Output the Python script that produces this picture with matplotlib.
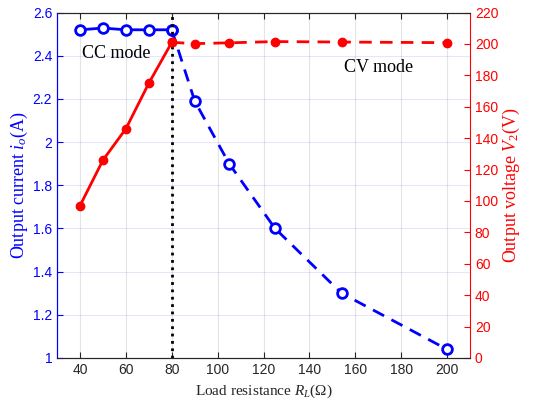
import numpy as np
import matplotlib.pyplot as plt

plt.rcParams["font.family"] = "Liberation Sans"
plt.rcParams["mathtext.fontset"] = "custom"
plt.rcParams["mathtext.rm"] = "Liberation Serif"
plt.rcParams["mathtext.it"] = "Liberation Serif:italic"

# load resistance (ohm)
r_load = [40, 50, 60, 70, 80, 90, 105, 125, 154, 200]
# output current (A)
i_out = [2.52, 2.528, 2.52, 2.52, 2.52, 2.19, 1.90, 1.60, 1.30, 1.04]
# output voltage (V)
v_out = [97, 126, 146, 175, 201, 200.2, 200.7, 201.5, 201.2, 200.8]
boundary = 80

blue = "#0000ff"
red = "#ff0000"
serif = "Liberation Serif"

fig = plt.figure(figsize=(5.49, 4.04), dpi=100)
ax = fig.add_axes([0.104, 0.114, 0.752, 0.855])
ax2 = ax.twinx()

k = r_load.index(boundary)

ax.plot(r_load[:k + 1], i_out[:k + 1], "-o", color=blue, lw=2, ms=7,
        mfc="white", mew=2)
ax.plot(r_load[k:], i_out[k:], "--o", color=blue, lw=2, ms=7,
        mfc="white", mew=2, dashes=(4.5, 3))
ax2.plot(r_load[:k + 1], v_out[:k + 1], "-o", color=red, lw=2, ms=6)
ax2.plot(r_load[k:], v_out[k:], "--o", color=red, lw=2, ms=6, dashes=(4.5, 3))
ax.axvline(boundary, color="black", ls=":", lw=2, zorder=5)

ax.set_xlim(30, 210)
ax.set_ylim(1, 2.6)
ax2.set_ylim(0, 220)
ax.set_xticks(np.arange(40, 201, 20))
ax.set_yticks(np.arange(1, 2.61, 0.2))
ax.set_yticklabels(["1", "1.2", "1.4", "1.6", "1.8", "2", "2.2", "2.4", "2.6"])
ax2.set_yticks(np.arange(0, 221, 20))

# matlab-like grid
for yv in np.arange(1.2, 2.6, 0.2):
    ax.axhline(yv, color=blue, alpha=0.1, lw=0.8, zorder=0)
for xv in np.arange(40, 201, 20):
    ax.axvline(xv, color="#262626", alpha=0.12, lw=0.8, zorder=0)

ax.tick_params(axis="x", direction="in", top=True, colors="#262626",
               labelsize=10, length=4)
ax.tick_params(axis="y", direction="in", colors=blue, labelsize=10, length=4)
ax2.tick_params(axis="y", direction="in", colors=red, labelsize=10, length=4)
ax.spines["left"].set_color(blue)
ax2.spines["left"].set_color(blue)
ax2.spines["right"].set_color(red)
ax.spines["right"].set_visible(False)
for s in ["top", "bottom"]:
    ax.spines[s].set_color("#262626")
    ax2.spines[s].set_color("#262626")

ax.set_xlabel(r"Load resistance $R_L$($\Omega$)", family=serif,
              fontsize=11, color="#262626")
ax.set_ylabel(r"Output current $i_o$(A)", family=serif, fontsize=13,
              color=blue, labelpad=2)
ax2.set_ylabel(r"Output voltage $V_2$(V)", family=serif, fontsize=13,
               color=red, labelpad=2)

ax.text(41, 2.41, "CC mode", family=serif, fontsize=13, va="center")
ax.text(155, 2.345, "CV mode", family=serif, fontsize=13, va="center")

fig.savefig("out.png", dpi=100)
